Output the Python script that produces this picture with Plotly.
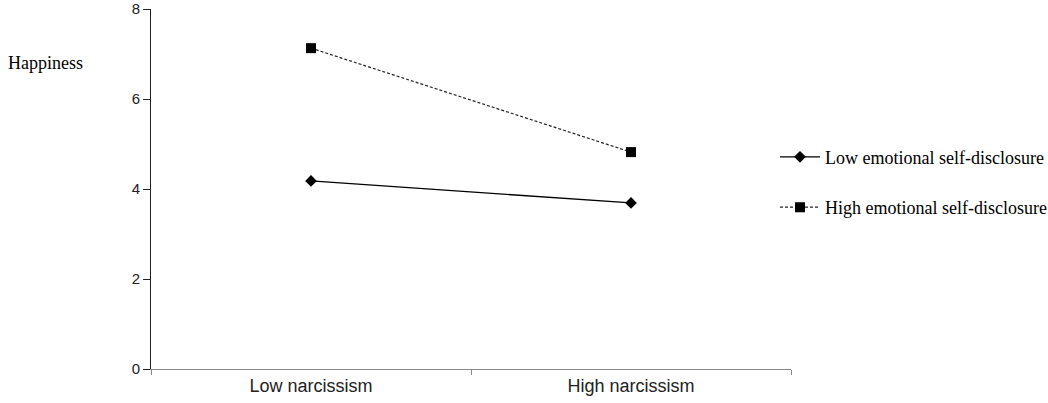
import plotly.graph_objects as go

categories = ["Low narcissism", "High narcissism"]
low_disclosure = [4.18, 3.69]
high_disclosure = [7.13, 4.82]
series_names = ["Low emotional self-disclosure", "High emotional self-disclosure"]
y_ticks = [0, 2, 4, 6, 8]

fig = go.Figure()
fig.add_trace(go.Scatter(
    x=categories, y=low_disclosure, name=series_names[0], mode="lines+markers",
    legendgroup="a",
    line=dict(color="black", width=1.3),
    marker=dict(symbol="diamond", size=9, color="black"),
))
fig.add_trace(go.Scatter(
    x=categories, y=high_disclosure, name=series_names[1], mode="lines+markers",
    legendgroup="b",
    line=dict(color="#222", width=1.2, dash="3px,2px"),
    marker=dict(symbol="square", size=10, color="black"),
))

fig.update_layout(
    width=1048, height=403,
    margin=dict(l=151, r=257, t=9, b=34, autoexpand=False),
    plot_bgcolor="white", paper_bgcolor="white",
    showlegend=True,
    legend=dict(x=0.975, y=0.64, xanchor="left", yanchor="top",
                font=dict(family="Liberation Serif", size=18, color="black"),
                tracegroupgap=24, itemwidth=40, bgcolor="rgba(0,0,0,0)"),
    xaxis=dict(type="category", range=[-0.5, 1.5], tickson="boundaries",
               automargin=False,
               showline=True, linecolor="#888", linewidth=1, ticks="outside",
               tickcolor="#888", ticklen=5, showgrid=False,
               tickfont=dict(family="Liberation Sans", size=18, color="#222")),
    yaxis=dict(range=[0, 8], tickvals=y_ticks, showline=True, linecolor="#222",
               automargin=False,
               linewidth=1, ticks="outside", tickcolor="#222", ticklen=7,
               showgrid=False, zeroline=False,
               tickfont=dict(family="Liberation Sans Narrow, Arial Narrow, Liberation Sans", size=15, color="#222")),
    annotations=[dict(text="Happiness", xref="paper", yref="paper", x=-0.2265, y=0.85,
                      xanchor="left", yanchor="middle", showarrow=False,
                      font=dict(family="Liberation Serif", size=18, color="black"))],
)

fig.write_html("out.html", config={"displayModeBar": False},
               post_script="document.body.style.margin='0';")
